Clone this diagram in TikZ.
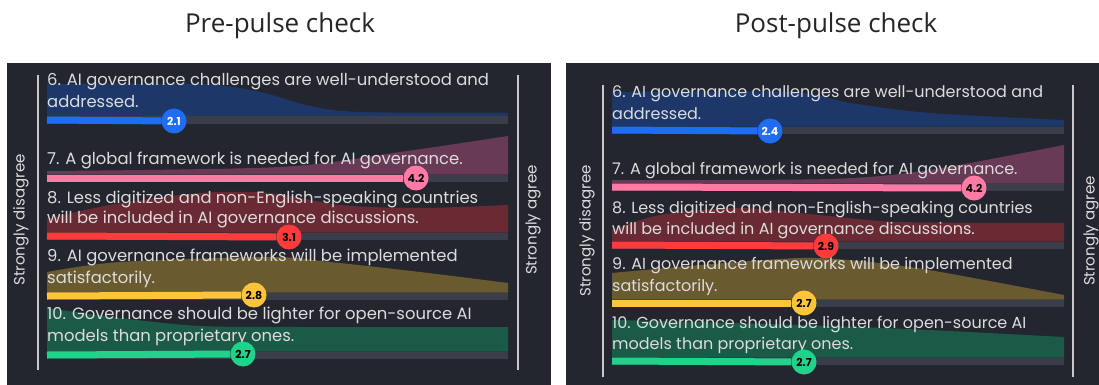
\documentclass[tikz,border=0pt]{standalone}
\usepackage{fontspec}
\setmainfont{Poppins}
\newfontfamily\titlefont{Open Sans}

\definecolor{panelbg}{HTML}{23262F}
\definecolor{trackgray}{HTML}{3A3E4A}
\definecolor{textgray}{HTML}{DCDCDC}
\definecolor{axisgray}{HTML}{C8C8C8}
\definecolor{titlegray}{HTML}{262626}
\definecolor{blueline}{HTML}{1F6CF5}
\definecolor{bluefill}{HTML}{1D3868}
\definecolor{pinkline}{HTML}{FF7BA6}
\definecolor{pinkfill}{HTML}{693A55}
\definecolor{redline}{HTML}{FF3B3B}
\definecolor{redfill}{HTML}{6A2A33}
\definecolor{yellowline}{HTML}{FFC43A}
\definecolor{yellowfill}{HTML}{6A5A30}
\definecolor{greenline}{HTML}{1FD38A}
\definecolor{greenfill}{HTML}{1C5A48}

\tikzset{
  panel/.style={fill=panelbg},
  axis/.style={draw=axisgray, line width=2pt},
  heading/.style={anchor=base, inner sep=0pt, text=titlegray, font=\titlefont\fontsize{26}{28}\selectfont},
  item/.style={anchor=base west, inner sep=0pt, text=textgray, font=\fontsize{#1}{22}\selectfont},
  item/.default=16.4,
  side/.style={rotate=90, inner sep=0pt, text=textgray, font=\fontsize{15}{16}\selectfont},
  track/.style={draw=trackgray, line width=7pt},
  bar/.style={line width=7pt},
  score/.style={circle, inner sep=0pt, minimum size=25pt, font=\fontsize{11}{11}\selectfont\bfseries},
}

\begin{document}
\begin{tikzpicture}[x=1pt, y=-1pt]
   \useasboundingbox (0,0) rectangle (1099,385);
   \fill[white] (0,0) rectangle (1099,385);

   % Titles
   \node[heading] (pre) at (280,33) {Pre-pulse check};
   \node[heading] (post) at (836,33) {Post-pulse check};

   % ---------------- Pre-pulse panel ----------------
   \fill[panel] (7,63) rectangle (551,385);
   \coordinate (la1) at (38,75);
   \coordinate (la2) at (38,370);
   \coordinate (ra1) at (518,75);
   \coordinate (ra2) at (518,370);
   \draw[axis] (la1) -- (la2);
   \draw[axis] (ra1) -- (ra2);
   \node[side] (dis1) at (21,220) {Strongly disagree};
   \node[side] (agr1) at (533,220) {Strongly agree};

   % Distributions
   \fill[bluefill] (47,116.5) -- plot[smooth] coordinates {(47,84) (200,84) (260,92) (310,106) (360,112) (508,113)} -- (508,116.5) -- cycle;
   \fill[pinkfill] (47,174.5) -- plot[smooth] coordinates {(47,171) (280,167) (400,152) (508,136)} -- (508,174.5) -- cycle;
   \fill[redfill] (47,232.5) -- plot[smooth] coordinates {(47,219) (110,205) (200,193) (270,193) (340,205) (420,208) (508,205)} -- (508,232.5) -- cycle;
   \fill[yellowfill] (47,292.5) -- plot[smooth] coordinates {(47,272) (120,262) (270,257) (330,262) (420,272) (508,283)} -- (508,292.5) -- cycle;
   \fill[greenfill] (47,351.5) -- plot[smooth] coordinates {(47,308) (120,318) (200,326) (300,327) (508,327)} -- (508,351.5) -- cycle;

   % Statements
   \node[item] (p6a) at (47,86) {6. AI governance challenges are well-understood and};
   \node[item] (p6b) at ([yshift=-22pt]p6a.base west) {addressed.};
   \node[item] (p7a) at (47,164) {7. A global framework is needed for AI governance.};
   \node[item] (p8a) at (47,203) {8. Less digitized and non-English-speaking countries};
   \node[item] (p8b) at ([yshift=-20pt]p8a.base west) {will be included in AI governance discussions.};
   \node[item] (p9a) at (47,261) {9. AI governance frameworks will be implemented};
   \node[item] (p9b) at ([yshift=-22pt]p9a.base west) {satisfactorily.};
   \node[item] (p10a) at (47,319) {10. Governance should be lighter for open-source AI};
   \node[item] (p10b) at ([yshift=-22pt]p10a.base west) {models than proprietary ones.};

   % Tracks and scores
   \foreach \y/\n in {120/6, 178/7, 236/8, 296/9, 355/10} {
      \coordinate (ps\n) at (47,\y);
      \coordinate (pe\n) at (508,\y);
      \draw[track] (ps\n) -- (pe\n);
   }
   \node[score, fill=blueline, text=white] (pc6) at (174,121) {2.1};
   \node[score, fill=pinkline] (pc7) at (416,178) {4.2};
   \node[score, fill=redline] (pc8) at (289,237) {3.1};
   \node[score, fill=yellowline] (pc9) at (254,295) {2.8};
   \node[score, fill=greenline] (pc10) at (243,354) {2.7};
   \draw[bar, blueline] (ps6) -- (pc6);
   \draw[bar, pinkline] (ps7) -- (pc7);
   \draw[bar, redline] (ps8) -- (pc8);
   \draw[bar, yellowline] (ps9) -- (pc9);
   \draw[bar, greenline] (ps10) -- (pc10);

   % ---------------- Post-pulse panel ----------------
   \fill[panel] (566,63) rectangle (1099,385);
   \coordinate (lb1) at (603,85);
   \coordinate (lb2) at (603,377);
   \coordinate (rb1) at (1073,85);
   \coordinate (rb2) at (1073,377);
   \draw[axis] (lb1) -- (lb2);
   \draw[axis] (rb1) -- (rb2);
   \node[side] (dis2) at (587,231) {Strongly disagree};
   \node[side] (agr2) at (1091,231) {Strongly agree};

   % Distributions
   \fill[bluefill] (612,126.5) -- plot[smooth] coordinates {(612,92) (790,92) (850,103) (930,113) (1064,120)} -- (1064,126.5) -- cycle;
   \fill[pinkfill] (612,183.5) -- plot[smooth] coordinates {(612,180) (829,179) (929,170) (1064,145)} -- (1064,183.5) -- cycle;
   \fill[redfill] (612,241.5) -- plot[smooth] coordinates {(612,230) (660,215) (740,208) (829,216) (900,222) (1064,223)} -- (1064,241.5) -- cycle;
   \fill[yellowfill] (612,299.5) -- plot[smooth] coordinates {(612,273) (700,265) (800,258) (860,261) (929,270) (1064,295)} -- (1064,299.5) -- cycle;
   \fill[greenfill] (612,357.5) -- plot[smooth] coordinates {(612,320) (700,322) (829,326) (929,330) (1064,337)} -- (1064,357.5) -- cycle;

   % Statements
   \node[item=16] (q6a) at (612,98) {6. AI governance challenges are well-understood and};
   \node[item=16] (q6b) at ([yshift=-21pt]q6a.base west) {addressed.};
   \node[item=16] (q7a) at (612,174) {7. A global framework is needed for AI governance.};
   \node[item=16] (q8a) at (612,213) {8. Less digitized and non-English-speaking countries};
   \node[item=16] (q8b) at ([yshift=-21pt]q8a.base west) {will be included in AI governance discussions.};
   \node[item=16] (q9a) at (612,269) {9. AI governance frameworks will be implemented};
   \node[item=16] (q9b) at ([yshift=-22pt]q9a.base west) {satisfactorily.};
   \node[item=16] (q10a) at (612,328) {10. Governance should be lighter for open-source AI};
   \node[item=16] (q10b) at ([yshift=-21pt]q10a.base west) {models than proprietary ones.};

   % Tracks and scores
   \foreach \y/\n in {130/6, 187/7, 245/8, 303/9, 361/10} {
      \coordinate (qs\n) at (612,\y);
      \coordinate (qe\n) at (1064,\y);
      \draw[track] (qs\n) -- (qe\n);
   }
   \node[score, fill=blueline, text=white] (qc6) at (770,131) {2.4};
   \node[score, fill=pinkline] (qc7) at (974,188) {4.2};
   \node[score, fill=redline] (qc8) at (826,246) {2.9};
   \node[score, fill=yellowline] (qc9) at (804,303) {2.7};
   \node[score, fill=greenline] (qc10) at (804,362) {2.7};
   \draw[bar, blueline] (qs6) -- (qc6);
   \draw[bar, pinkline] (qs7) -- (qc7);
   \draw[bar, redline] (qs8) -- (qc8);
   \draw[bar, yellowline] (qs9) -- (qc9);
   \draw[bar, greenline] (qs10) -- (qc10);
\end{tikzpicture}
\end{document}
